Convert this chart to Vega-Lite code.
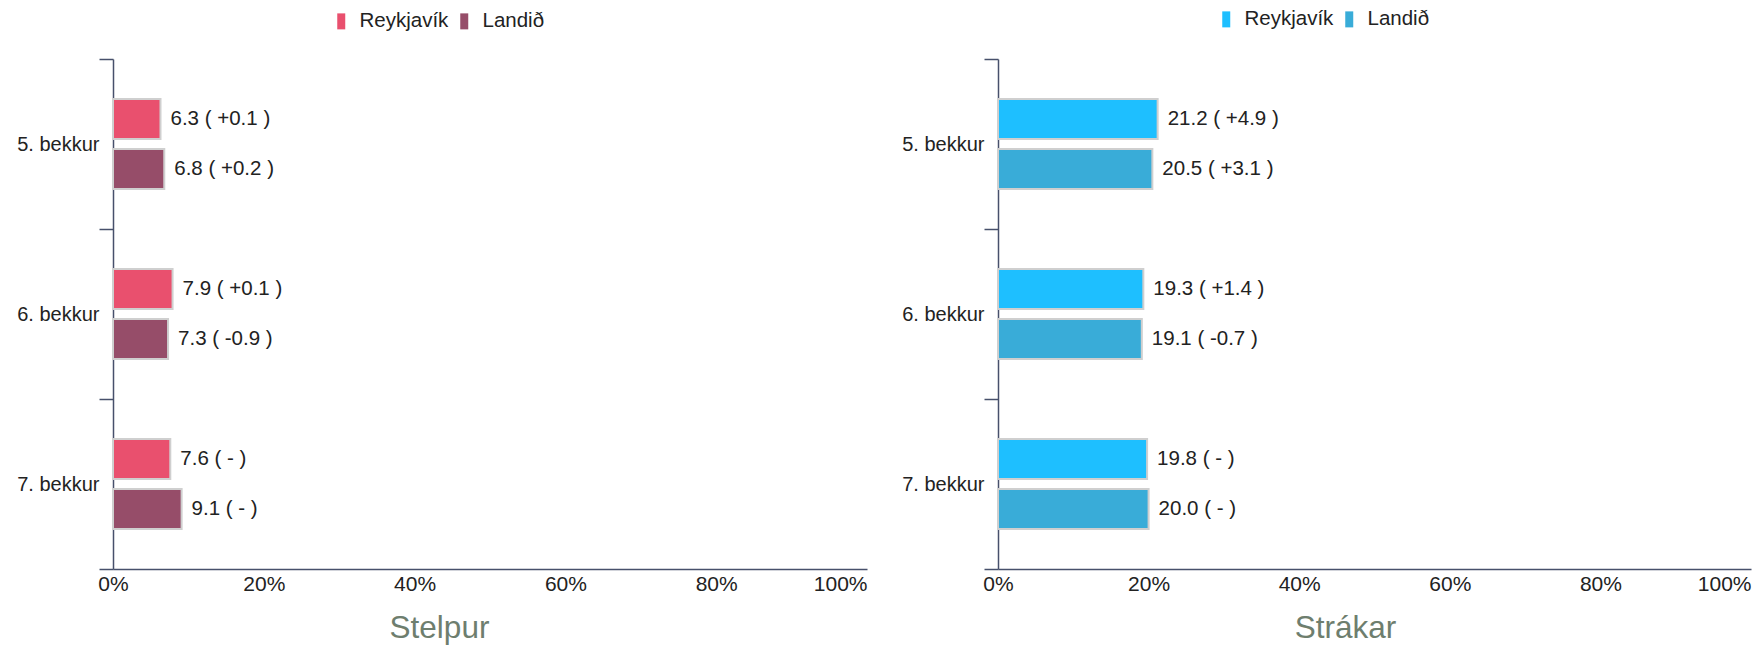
{
  "$schema": "https://vega.github.io/schema/vega-lite/v6.json",
  "padding": {"left": 16, "top": 9, "right": 2, "bottom": 2},
  "background": "white",
  "bounds": "flush",
  "spacing": 131,
  "config": {
    "font": "Liberation Sans",
    "view": {"stroke": null},
    "axis": {
      "grid": false,
      "domainColor": "#47506b",
      "domainWidth": 1.5,
      "tickColor": "#47506b",
      "tickWidth": 1.5,
      "labelColor": "#222222",
      "labelFontSize": 20,
      "labelFont": "Liberation Sans"
    },
    "legend": {
      "orient": "none",
      "direction": "horizontal",
      "title": null,
      "labelFontSize": 20.5,
      "labelColor": "#222222",
      "labelFont": "Liberation Sans",
      "symbolType": "M-0.5,-1H0.5V1H-0.5Z",
      "symbolSize": 256,
      "symbolStrokeWidth": 0,
      "symbolOpacity": 1,
      "labelOffset": 8,
      "columnPadding": 5,
      "padding": 0
    }
  },
  "resolve": {"scale": {"color": "independent"}, "legend": {"color": "independent"}},
  "datasets": {
    "stelpur": [
      {"bekkur": "5. bekkur", "svaedi": "Reykjavík", "gildi": 6.3, "merki": "6.3 ( +0.1 )"},
      {"bekkur": "5. bekkur", "svaedi": "Landið", "gildi": 6.8, "merki": "6.8 ( +0.2 )"},
      {"bekkur": "6. bekkur", "svaedi": "Reykjavík", "gildi": 7.9, "merki": "7.9 ( +0.1 )"},
      {"bekkur": "6. bekkur", "svaedi": "Landið", "gildi": 7.3, "merki": "7.3 ( -0.9 )"},
      {"bekkur": "7. bekkur", "svaedi": "Reykjavík", "gildi": 7.6, "merki": "7.6 ( - )"},
      {"bekkur": "7. bekkur", "svaedi": "Landið", "gildi": 9.1, "merki": "9.1 ( - )"}
    ],
    "strakar": [
      {"bekkur": "5. bekkur", "svaedi": "Reykjavík", "gildi": 21.2, "merki": "21.2 ( +4.9 )"},
      {"bekkur": "5. bekkur", "svaedi": "Landið", "gildi": 20.5, "merki": "20.5 ( +3.1 )"},
      {"bekkur": "6. bekkur", "svaedi": "Reykjavík", "gildi": 19.3, "merki": "19.3 ( +1.4 )"},
      {"bekkur": "6. bekkur", "svaedi": "Landið", "gildi": 19.1, "merki": "19.1 ( -0.7 )"},
      {"bekkur": "7. bekkur", "svaedi": "Reykjavík", "gildi": 19.8, "merki": "19.8 ( - )"},
      {"bekkur": "7. bekkur", "svaedi": "Landið", "gildi": 20.0, "merki": "20.0 ( - )"}
    ]
  },
  "hconcat": [
    {
      "width": 754,
      "height": 510,
      "data": {"name": "stelpur"},
      "encoding": {
        "y": {"field": "bekkur", "type": "nominal", "scale": {"paddingInner": 0, "paddingOuter": 0},
          "axis": {"title": null, "tickBand": "extent", "tickSize": 14, "labelPadding": 0}},
        "yOffset": {"field": "svaedi", "type": "nominal", "sort": ["Reykjavík", "Landið"], "scale": {"paddingInner": 0.2, "paddingOuter": 0.8}},
        "x": {"field": "gildi", "type": "quantitative", "scale": {"domain": [0, 100]},
          "axis": {"values": [0, 20, 40, 60, 80, 100], "ticks": false, "labelPadding": 4, "labelFontSize": 21,
            "labelExpr": "datum.value + '%'",
            "labelAlign": {"expr": "datum.value == 100 ? 'right' : 'center'"},
            "title": "Stelpur", "titleFontSize": 31.5, "titleColor": "#6e7e6e", "titleFontWeight": "normal",
            "titleX": 326, "titleY": 68, "titleBaseline": "alphabetic", "titleAlign": "center"}}
      },
      "layer": [
        {
          "mark": {"type": "bar", "stroke": "#cfcfcf", "strokeWidth": 2},
          "encoding": {
            "color": {"field": "svaedi", "type": "nominal",
              "scale": {"domain": ["Reykjavík", "Landið"], "range": ["#e9506e", "#964d69"]},
              "legend": {"legendX": 218, "legendY": -48}}
          }
        },
        {
          "mark": {"type": "text", "align": "left", "baseline": "middle", "dx": 10, "fontSize": 20.5, "color": "#222222"},
          "encoding": {"text": {"field": "merki"}}
        }
      ]
    },
    {
      "width": 753,
      "height": 510,
      "data": {"name": "strakar"},
      "encoding": {
        "y": {"field": "bekkur", "type": "nominal", "scale": {"paddingInner": 0, "paddingOuter": 0},
          "axis": {"title": null, "tickBand": "extent", "tickSize": 14, "labelPadding": 0}},
        "yOffset": {"field": "svaedi", "type": "nominal", "sort": ["Reykjavík", "Landið"], "scale": {"paddingInner": 0.2, "paddingOuter": 0.8}},
        "x": {"field": "gildi", "type": "quantitative", "scale": {"domain": [0, 100]},
          "axis": {"values": [0, 20, 40, 60, 80, 100], "ticks": false, "labelPadding": 4, "labelFontSize": 21,
            "labelExpr": "datum.value + '%'",
            "labelAlign": {"expr": "datum.value == 100 ? 'right' : 'center'"},
            "title": "Strákar", "titleFontSize": 31.5, "titleColor": "#6e7e6e", "titleFontWeight": "normal",
            "titleX": 347, "titleY": 68, "titleBaseline": "alphabetic", "titleAlign": "center"}}
      },
      "layer": [
        {
          "mark": {"type": "bar", "stroke": "#cfcfcf", "strokeWidth": 2},
          "encoding": {
            "color": {"field": "svaedi", "type": "nominal",
              "scale": {"domain": ["Reykjavík", "Landið"], "range": ["#1ebfff", "#39acd8"]},
              "legend": {"legendX": 218, "legendY": -50}}
          }
        },
        {
          "mark": {"type": "text", "align": "left", "baseline": "middle", "dx": 10, "fontSize": 20.5, "color": "#222222"},
          "encoding": {"text": {"field": "merki"}}
        }
      ]
    }
  ]
}
